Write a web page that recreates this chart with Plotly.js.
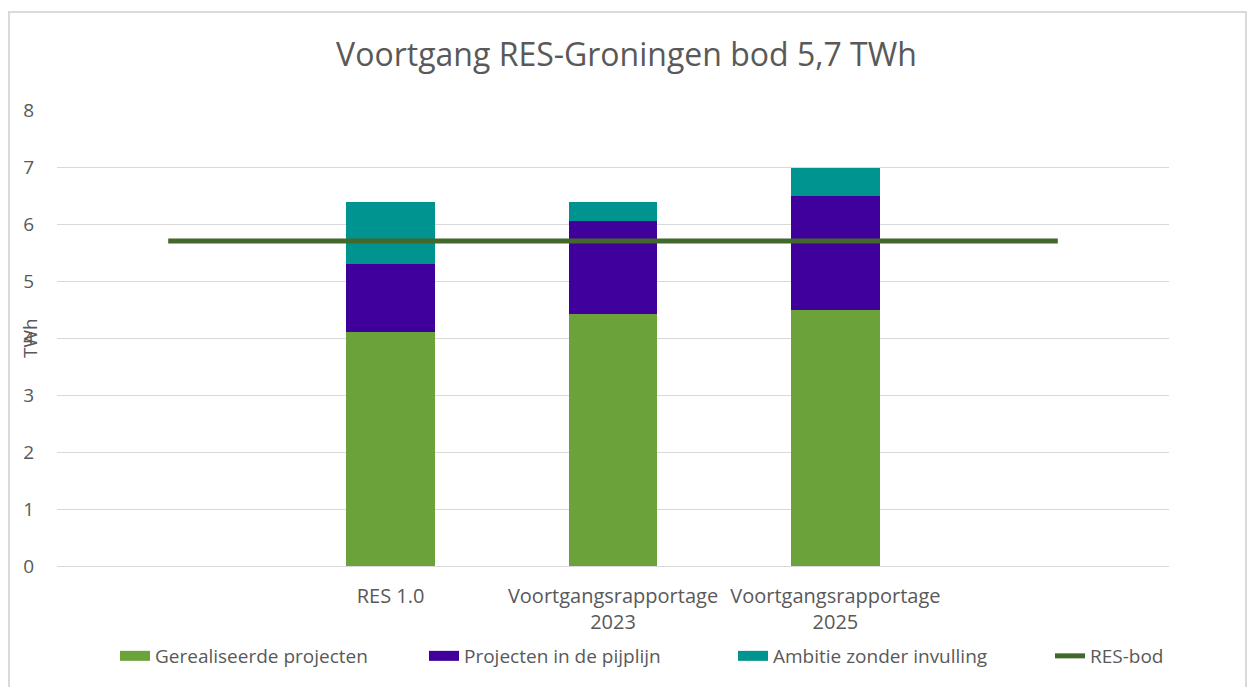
<!DOCTYPE html>
<html>
<head>
<meta charset="utf-8">
<script src="https://cdn.plot.ly/plotly-3.0.1.min.js"></script>
<style>
  html, body { margin: 0; padding: 0; background: #fff; }
  #wrap { position: relative; width: 1253px; height: 687px; }
  #chart { position: absolute; left: 0; top: 0; width: 1253px; height: 687px; }
  #frame { position: absolute; left: 8px; top: 11px; width: 1239px; height: 690px;
           border: 2px solid #d9d9d9; pointer-events: none; box-sizing: border-box; }
</style>
</head>
<body>
<div id="wrap">
  <div id="chart"></div>
  <div id="frame"></div>
</div>
<script>
// Categories (first and last are empty slots, as in the original chart)
const categories = [' ', 'RES 1.0', 'Voortgangsrapportage<br>2023', 'Voortgangsrapportage<br>2025', '  '];
const barCategories = ['RES 1.0', 'Voortgangsrapportage<br>2023', 'Voortgangsrapportage<br>2025'];

// Series names and colours
const seriesNames = ['Gerealiseerde projecten', 'Projecten in de pijplijn', 'Ambitie zonder invulling', 'RES-bod'];
const seriesColors = ['#6BA33A', '#40009B', '#009490', '#43682B'];

// Series values (TWh)
const gerealiseerd = [4.10, 4.42, 4.49];
const pijplijn = [1.20, 1.64, 2.01];
const ambitie = [1.08, 0.33, 0.49];

// RES-bod reference line
const resBodCategories = [' ', '  '];
const resBod = [5.7, 5.7];

const yTicks = [0, 1, 2, 3, 4, 5, 6, 7, 8];

const fontFam = 'Open Sans, Liberation Sans, sans-serif';
const grey = '#595959';

const barSeries = [gerealiseerd, pijplijn, ambitie];
const traces = [];
barSeries.forEach((vals, i) => {
  traces.push({ type: 'bar', name: seriesNames[i], x: barCategories, y: vals, showlegend: false,
    marker: { color: seriesColors[i], line: { width: 0 } }, hoverinfo: 'y' });
});
traces.push({ type: 'scatter', mode: 'lines', name: seriesNames[3], x: resBodCategories, y: resBod,
  line: { color: seriesColors[3], width: 5 }, showlegend: false });
// legend entries (wide swatches as in the original)
barSeries.forEach((vals, i) => {
  traces.push({ type: 'scatter', mode: 'lines', name: seriesNames[i], x: [null], y: [null],
    line: { color: seriesColors[i], width: 14 }, hoverinfo: 'skip', legend: 'legend' });
});
traces.push({ type: 'scatter', mode: 'lines', name: seriesNames[3], x: [null], y: [null],
  line: { color: seriesColors[3], width: 5 }, hoverinfo: 'skip', legend: 'legend2' });

const legendCommon = { orientation: 'h', xref: 'container', yref: 'container', xanchor: 'left',
  y: 1 - 656 / 687, yanchor: 'middle', traceorder: 'normal', font: { size: 19, color: grey },
  itemwidth: 30, bgcolor: 'rgba(0,0,0,0)' };

const layout = {
  width: 1253, height: 687,
  margin: { l: 57, r: 84, t: 110, b: 121, pad: 0 },
  paper_bgcolor: '#ffffff', plot_bgcolor: '#ffffff',
  font: { family: fontFam, color: grey, size: 19 },
  title: { text: 'Voortgang RES-Groningen bod 5,7 TWh', font: { size: 32, color: grey, family: fontFam },
           x: 0.5, xref: 'container', y: 1 - 55 / 687, yanchor: 'middle' },
  barmode: 'stack',
  bargap: 0.6,
  showlegend: true,
  legend: Object.assign({}, legendCommon, { x: 115 / 1253, entrywidth: 264, entrywidthmode: 'pixels' }),
  legend2: Object.assign({}, legendCommon, { x: 1050 / 1253 }),
  xaxis: { type: 'category', categoryorder: 'array', categoryarray: categories,
           range: [-0.5, 4.5], showgrid: false, zeroline: false, showline: false,
           ticks: '', tickfont: { size: 20, color: grey }, ticklabelstandoff: 16, fixedrange: true },
  yaxis: { range: [0, 8], tickvals: yTicks, showgrid: true, gridcolor: '#d9d9d9', gridwidth: 1,
           zeroline: true, zerolinecolor: '#d9d9d9', zerolinewidth: 1, showline: false, ticks: '',
           tickfont: { size: 19, color: grey }, ticklabelstandoff: 22, fixedrange: true },
  annotations: [
    { text: 'TWh', xref: 'paper', yref: 'paper', x: 0, xshift: -27, y: 0.5, textangle: -90,
      showarrow: false, xanchor: 'center', yanchor: 'middle', font: { size: 19, color: grey } }
  ]
};

Plotly.newPlot('chart', traces, layout, { displayModeBar: false, staticPlot: true });
</script>
</body>
</html>
